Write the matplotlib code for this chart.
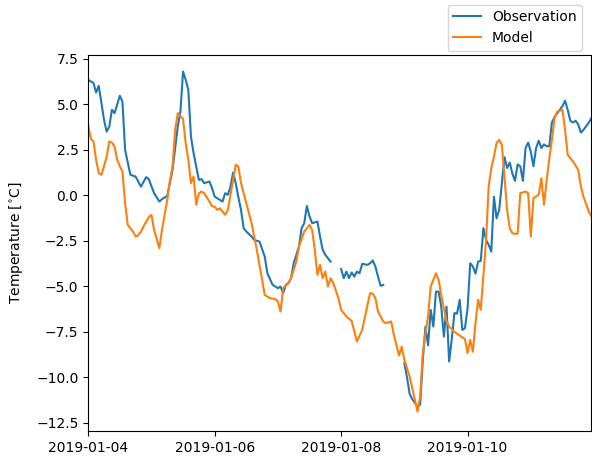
import numpy as np
import pandas as pd
import matplotlib
matplotlib.use("Agg")
import matplotlib.pyplot as plt
import matplotlib.dates as mdates

# Hourly 2 m temperature, hours counted from 2019-01-04 00:00
start = pd.Timestamp("2019-01-04")

# Observations (NaN marks missing records)
obs_hours = [
    0, 2, 3, 4, 6, 7, 8, 9, 10, 12, 13, 14, 16, 18, 20, 22, 23, 25, 27, 28,
    30, 32, 34, 35, 36, 37, 38, 39, 40, 42, 43, 44, 46, 47, 48, 51, 52, 53, 54, 55,
    56, 57, 58, 59, 60, 62, 63, 65, 67, 68, 70, 72, 73, 74, 75, 76, 77, 78, 80, 81,
    82, 83, 84, 85, 87, 88, 89, 90, 92, 94,
    96, 97, 98, 99, 100, 101, 102, 103, 104, 106, 107, 108, 109, 110, 111, 112, 116,
    120, 121, 122, 123, 124, 125, 126, 127, 128, 129, 130, 131, 132, 133, 134, 135, 136,
    137, 138, 139, 140, 141, 142, 143, 144, 145, 146, 147, 148, 149, 150, 151, 152, 153,
    154, 155, 156, 157, 158, 159, 160, 161, 162, 163, 164, 165, 166, 167, 168, 169, 170,
    171, 172, 173, 174, 175, 176, 177, 178, 179, 180, 181, 182, 183, 184, 185, 186, 187,
    188, 189, 190, 191,
]
obs_temp = [
    6.35, 6.17, 5.65, 6.02, 4.15, 3.50, 3.78, 4.70, 4.52, 5.47, 5.15, 2.50, 1.13, 1.03, 0.48, 1.00, 0.89, 0.12, -0.34, -0.21,
    -0.03, 1.40, 3.78, 4.60, 6.80, 6.35, 5.80, 3.23, 2.32, 0.85, 0.89, 0.67, 0.76, 0.40, -0.07, -0.34, 0.12, 0.03, 0.48, 1.25,
    0.67, -0.10, -0.80, -1.80, -1.99, -2.26, -2.45, -2.54, -3.36, -4.28, -4.92, -5.10, -5.01, -5.37, -4.92, -4.82, -4.55, -3.73, -2.81, -1.80,
    -1.53, -0.58, -1.16, -1.53, -1.44, -2.26, -2.99, -3.27, -3.64, np.nan,
    -4.05, -4.55, -4.19, -4.55, -4.24, -4.46, -4.19, -4.28, -3.76, -3.82, -3.73, -3.58, -3.91, -4.46, -4.97, -4.92, np.nan,
    -9.22, -10.00, -10.90, -11.20, -11.40, -11.60, -11.50, -9.04, -7.21, -8.24, -6.29, -7.21, -5.29, -5.29, -6.11, -7.76, -6.11,
    -9.13, -7.90, -6.47, -6.50, -5.74, -7.39, -7.30, -6.20, -3.73, -3.91, -4.30, -3.64, -3.60, -1.80, -2.45, -2.72, -3.09,
    -0.07, -1.26, -0.80, 0.67, 2.10, 1.50, 1.80, 1.20, 0.80, 1.70, 1.60, 0.80, 2.60, 2.90, 2.40, 1.60, 2.60,
    3.00, 2.60, 2.80, 2.70, 2.70, 4.00, 4.30, 4.50, 4.70, 4.90, 5.20, 4.70, 4.10, 4.00, 4.10, 3.90, 3.45,
    3.60, 3.80, 4.00, 4.24,
]

# Model forecast
mod_hours = [
    0, 1, 2, 3, 4, 5, 6, 7, 8, 9, 10, 11, 12, 13, 14, 15, 17, 18, 19, 20,
    21, 23, 24, 25, 27, 28, 30, 31, 32, 33, 34, 35, 36, 37, 38, 39, 40, 41, 42, 43,
    44, 46, 47, 48, 49, 50, 52, 53, 55, 56, 57, 58, 60, 62, 64, 66, 67, 69, 71, 72,
    73, 74, 76, 77, 79, 80, 82, 84, 85, 86, 87, 88, 89, 90, 91, 92, 93, 95, 96, 98,
    100, 102, 104, 106, 107, 108, 109, 110, 112, 113, 115, 116, 118, 119, 120, 122, 123, 124, 125, 126,
    127, 128, 129, 130, 132, 133, 134, 135, 136, 137, 139, 141, 143, 144, 145, 146, 147, 148, 149, 150,
    151, 152, 153, 154, 155, 156, 157, 158, 159, 160, 161, 162, 163, 164, 166, 167, 168, 169, 171, 172,
    173, 174, 175, 176, 177, 178, 179, 180, 181, 182, 184, 186, 187, 188, 190, 191,
]
mod_temp = [
    3.87, 3.10, 2.96, 1.95, 1.22, 1.13, 1.60, 2.13, 2.96, 2.90, 2.68, 1.95, 1.60, 1.31, -0.43, -1.62, -1.99, -2.26, -2.20, -1.99,
    -1.71, -1.20, -1.07, -1.90, -2.90, -1.90, -0.25, 0.80, 1.58, 3.60, 4.52, 4.35, 4.19, 2.87, 1.95, 0.67, 1.03, -0.52, 0.10, 0.21,
    0.12, -0.34, -0.60, -0.62, -0.80, -0.71, -1.07, -0.80, 0.85, 1.68, 1.58, 0.67, -0.43, -1.53, -2.99, -4.64, -5.47, -5.65, -5.70, -5.83,
    -6.38, -5.10, -4.82, -4.55, -3.64, -2.81, -1.99, -1.62, -1.90, -2.99, -4.37, -3.82, -4.55, -4.19, -5.01, -4.55, -4.82, -5.65, -6.29, -6.66,
    -6.90, -8.03, -7.39, -6.02, -5.37, -5.40, -5.65, -6.38, -6.93, -7.02, -6.93, -7.66, -8.80, -8.32, -9.04, -9.96, -10.60, -11.24, -11.88, -11.05,
    -8.67, -7.60, -6.66, -5.01, -4.28, -4.64, -5.50, -6.20, -6.90, -7.21, -7.50, -7.70, -7.90, -8.67, -7.94, -8.59, -7.02, -5.74, -6.29, -4.40,
    -2.50, 0.48, 1.50, 2.13, 2.87, 3.05, 2.77, 1.03, -0.80, -1.80, -2.08, -2.12, -2.10, 0.12, 0.21, 0.12, -2.26, -0.15, 0.03, 0.94,
    -0.52, 0.80, 2.00, 3.05, 4.24, 4.60, 4.65, 4.70, 3.60, 2.23, 1.86, 1.40, 0.50, -0.07, -0.89, -1.16,
]

obs_time = start + pd.to_timedelta(obs_hours, unit="h")
mod_time = start + pd.to_timedelta(mod_hours, unit="h")

fig = plt.figure(figsize=(5.92, 4.61), dpi=100)
ax = fig.add_axes([0.149, 0.065, 0.85, 0.816])

ax.plot(obs_time, obs_temp, color="tab:blue", label="Observation")
ax.plot(mod_time, mod_temp, color="tab:orange", label="Model")

ax.set_xlim(mod_time[0], mod_time[-1])
ax.set_ylim(-12.95, 7.72)
ax.set_ylabel(r"Temperature [$^{\circ}$C]", labelpad=8)

ax.xaxis.set_major_locator(mdates.DayLocator(interval=2))
ax.xaxis.set_major_formatter(mdates.DateFormatter("%Y-%m-%d"))

ax.legend(loc="lower right", bbox_to_anchor=(0.99, 1.0), borderaxespad=0.3)

fig.savefig("out.png", dpi=100)
